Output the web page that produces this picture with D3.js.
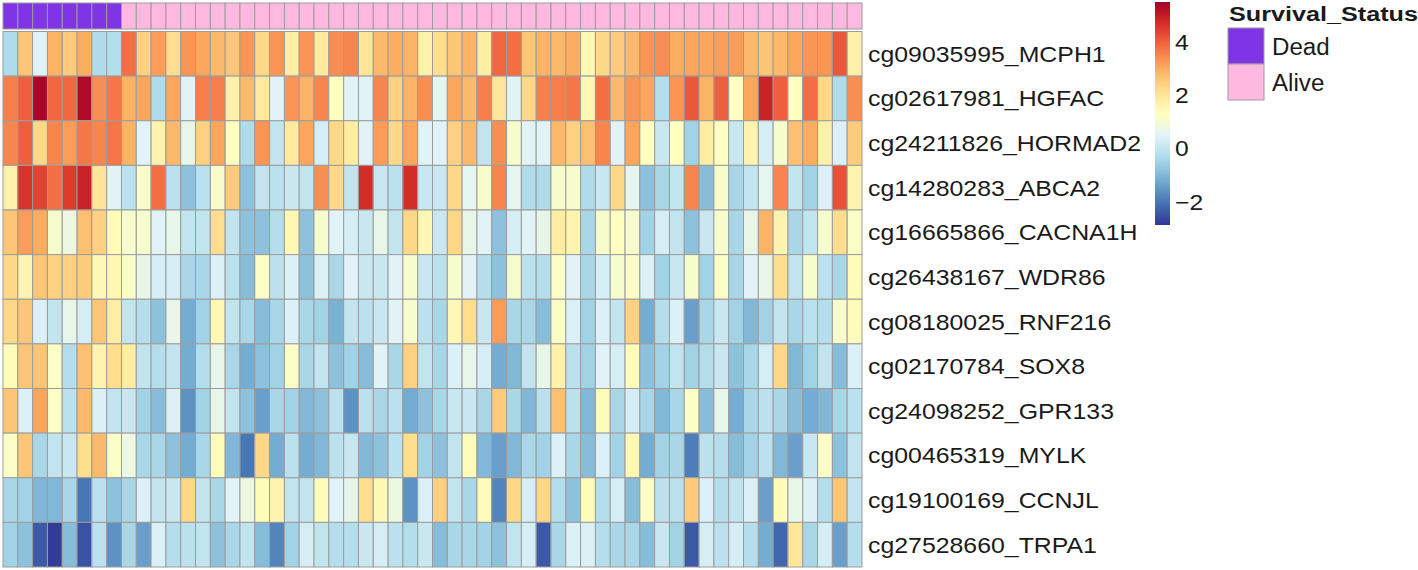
<!DOCTYPE html>
<html>
<head>
<meta charset="utf-8">
<script src="https://cdn.jsdelivr.net/npm/d3@7"></script>
<style>
  body { margin: 0; background: #fff; }
  text { font-family: "Liberation Sans", Arial, sans-serif; fill: #1a1a1a; }
</style>
</head>
<body>
<svg id="heatmap" width="1418" height="570"></svg>
<script>
// row labels (probe_gene) and per-sample survival status
let probes = [
  "cg09035995_MCPH1", "cg02617981_HGFAC", "cg24211826_HORMAD2", "cg14280283_ABCA2",
  "cg16665866_CACNA1H", "cg26438167_WDR86", "cg08180025_RNF216", "cg02170784_SOX8",
  "cg24098252_GPR133", "cg00465319_MYLK", "cg19100169_CCNJL", "cg27528660_TRPA1"
];
let survival = [
  "Dead", "Dead", "Dead", "Dead", "Dead", "Dead", "Dead", "Dead",
  "Alive", "Alive", "Alive", "Alive", "Alive", "Alive", "Alive", "Alive", "Alive", "Alive",
  "Alive", "Alive", "Alive", "Alive", "Alive", "Alive", "Alive", "Alive", "Alive", "Alive",
  "Alive", "Alive", "Alive", "Alive", "Alive", "Alive", "Alive", "Alive", "Alive", "Alive",
  "Alive", "Alive", "Alive", "Alive", "Alive", "Alive", "Alive", "Alive", "Alive", "Alive",
  "Alive", "Alive", "Alive", "Alive", "Alive", "Alive", "Alive", "Alive", "Alive", "Alive"
];

// scaled methylation values, one array per probe (58 samples each)
let mcph1 = [-0.3, 2.6, 0.5, 2.9, 2.5, 3.0, -0.3, -0.2, 3.8, 2.4, 3.2, 2.2, 3.3, 3.1, 2.8, 2.6, 3.3, 2.3, 3.3,
  1.8, 3.3, 1.9, 3.4, 3.5, 2.0, 2.8, 3.0, 2.9, 1.7, 2.2, 2.6, 2.9, 1.8, 3.9, 3.8, 2.6, 2.9, 2.8,
  3.0, 1.5, 2.3, 2.5, 2.8, 3.3, 3.4, 3.0, 3.1, 3.1, 3.2, 3.2, 2.8, 2.6, 2.8, 3.1, 3.3, 3.3, 4.1, 1.7];
let hgfac = [3.6, 4.0, 5.4, 3.9, 3.9, 5.3, 3.4, 3.7, 2.9, 3.1, -0.3, 3.1, 0.5, 3.6, 3.6, 1.7, 2.8, 1.9, 0.5,
  3.3, 2.9, 3.5, 1.3, 0.5, 0.5, 3.5, 2.4, 2.9, 3.4, 0.6, 3.1, 2.8, 3.6, 2.0, 0.5, 2.3, 3.6, 3.6,
  3.7, 1.5, 3.8, 2.8, 3.3, 3.1, -0.2, 3.3, 4.1, 2.9, 4.0, 1.3, 3.1, 4.9, 4.0, 1.3, 3.8, 2.3, -0.3, 3.4];
let hormad2 = [3.5, 4.0, 2.3, 3.5, 3.2, 3.7, 3.5, 3.7, 2.9, 0.5, 1.6, 2.8, 0.7, 2.4, 3.1, 1.3, -0.3, 3.3, 0.0,
  1.9, 3.1, 0.3, 2.3, 1.8, 0.5, 3.2, 2.3, 3.1, 0.5, 0.5, 2.4, 2.8, 0.0, 3.4, 1.1, 0.5, 0.5, 2.8,
  2.4, 2.7, 3.5, 0.5, 3.1, 1.3, 0.1, 1.3, -0.5, 1.8, 1.3, 0.1, 1.6, 0.3, 1.1, 2.7, 3.0, 1.7, 0.4, 2.5];
let abca2 = [1.7, 4.6, 4.4, 3.8, 4.5, 4.9, 2.0, 0.5, -0.1, 1.1, 3.8, -0.1, -0.8, -0.1, 1.1, 2.5, -0.8, 0.0, -0.1,
  0.1, 0.0, 3.4, 2.3, 0.0, 4.7, 0.1, -0.1, 4.7, 0.1, 0.1, 2.3, 0.6, 1.1, 3.5, 0.6, -0.3, -0.3, 1.1,
  1.1, -0.3, 0.1, 2.3, 0.6, -0.8, -0.4, 0.0, 3.5, -0.9, 1.1, -0.4, 0.0, 0.6, 3.5, 0.0, -0.5, 0.4, 4.2, 1.6];
let cacna1h = [2.6, 3.2, 3.0, 1.1, 0.8, 2.7, 2.4, 1.4, 1.1, 1.1, 0.5, 0.7, 0.0, 0.0, 2.2, 0.0, -0.8, -0.8, -0.2,
  1.5, -0.8, 1.1, 0.5, 0.3, 0.1, 0.7, 0.0, 2.3, 1.5, 0.1, 2.3, 0.7, 0.5, -0.8, 0.3, 0.5, 0.7, 1.8,
  1.6, -0.4, 1.1, 1.3, 1.1, -0.5, 0.3, 0.0, -0.8, 0.1, 1.1, -0.4, 0.7, 2.9, 1.6, -0.4, 0.0, 1.1, 2.2, 1.2];
let wdr86 = [2.3, 1.6, 2.6, 2.4, 2.4, 2.5, 1.5, 1.5, 1.2, 0.7, 0.3, 0.3, -0.4, -0.4, 0.4, -0.1, -0.9, 1.2, -0.1,
  0.4, -0.8, 0.4, -0.4, 0.5, 0.1, 0.1, 0.5, 1.1, 0.1, -0.1, 1.1, 0.5, -0.2, -0.8, 1.1, -0.1, -0.2, 1.2,
  0.5, -0.4, 0.3, 1.1, 1.2, 0.4, -0.5, 0.1, 1.1, -0.5, 1.2, -0.4, 0.5, 0.7, 2.2, 0.0, 1.1, -0.1, -0.4, 1.4];
let rnf216 = [2.3, 2.6, 0.4, 0.0, 0.7, 0.3, 2.6, 1.8, 0.0, -0.2, -0.8, 0.7, -1.2, -0.5, 1.5, 0.0, -0.4, -0.9, -0.4,
  0.4, -0.4, -0.5, -1.1, 0.0, -0.1, 0.1, 0.5, 1.1, -0.1, -0.4, 1.5, 2.2, 0.1, 3.2, -0.4, -0.4, -0.9, 1.2,
  0.4, -0.5, 0.4, 0.0, 2.4, -1.2, -0.2, 0.4, -1.4, -0.4, 0.1, -0.5, -1.0, -0.5, 0.0, -0.4, -0.1, -0.2, 1.1, 1.4];
let sox8 = [1.4, 2.6, 2.6, 1.2, -0.2, 2.7, 1.6, 2.2, 1.8, 0.0, -0.2, 0.0, -1.2, -0.2, 0.7, -0.4, -1.2, -0.8, -0.5,
  1.2, -0.4, 0.0, -0.8, -0.5, -0.9, 0.5, -0.4, 2.4, 0.0, -0.4, 0.4, 0.7, 0.3, -1.2, -1.0, 0.0, 0.7, 1.7,
  -0.1, -0.5, 0.5, 0.3, 1.4, -0.8, -0.5, 0.0, -0.5, -0.2, 0.1, -0.8, -0.4, 0.3, 2.3, -1.0, -0.5, 0.0, -0.9, 0.4];
let gpr133 = [2.6, 0.4, 3.1, 1.2, -0.1, 2.8, 0.4, 0.0, 0.1, -0.5, -0.9, 0.4, -1.6, -0.5, 0.7, 0.0, -0.8, -1.4, -0.4,
  -0.5, -1.0, -0.8, -0.1, -1.6, -0.1, -0.4, -0.1, -1.2, -0.8, -0.4, 0.1, 0.1, -0.4, 2.5, -0.4, -1.0, -0.1, 2.7,
  -0.1, -1.0, 1.4, -0.4, 0.3, -0.4, -1.0, -0.4, 1.2, -0.9, 0.7, -1.2, -0.4, -0.1, -0.4, -0.9, -1.2, -1.0, -0.4, -0.1];
let mylk = [1.2, 2.6, -0.4, 0.0, 0.1, 2.2, 2.8, 1.2, 0.8, -0.4, -0.4, -0.8, -1.2, -0.4, 1.4, -1.0, -2.0, 2.3, -1.2,
  -0.1, -1.2, -1.0, -0.1, 0.1, -1.0, -0.8, -0.1, 2.2, -0.5, -0.8, 0.0, 1.4, -1.0, -1.4, -1.0, -0.4, -0.5, 0.4,
  -0.4, -0.9, 0.4, -0.5, 1.5, -1.2, -0.5, -0.4, -1.9, -0.1, -0.2, -0.9, -0.5, -0.1, -1.0, -1.4, 0.1, 1.2, -0.8, 0.0];
let ccnjl = [-0.4, -0.5, -1.0, -1.0, -0.4, -2.0, -0.1, -0.8, -0.4, 0.4, 0.0, 0.1, 2.3, 0.0, -0.4, 0.5, 0.8, 1.4, 1.6,
  0.0, 0.0, 1.4, 0.5, 0.7, 2.2, 1.5, 0.8, -1.6, 0.4, 2.4, 0.0, -0.4, 1.4, -1.8, 2.3, 0.3, 2.3, -0.2,
  -0.8, 1.4, -0.2, 0.3, -0.9, 1.2, -0.1, -0.1, 2.5, 0.4, -0.2, 0.0, 0.4, -1.4, 1.4, 0.7, 0.4, -0.2, 2.6, 0.0];
let trpa1 = [-0.5, -0.8, -2.4, -2.8, -0.9, -2.5, -0.1, -1.6, -0.4, -1.4, 0.4, -0.2, -0.1, 0.0, -0.8, -0.4, 0.0, -0.9, -1.8,
  -0.5, 0.3, 0.0, -0.2, -0.2, 0.1, 0.3, -0.1, -0.2, 0.1, -0.9, -0.4, -0.4, -0.5, -0.8, 0.0, 0.3, -2.4, -0.4,
  0.4, 0.4, -0.2, -0.4, -0.4, -0.9, 0.1, -0.5, -2.4, 0.3, -0.1, 0.3, -0.2, -1.2, -2.2, 2.0, -0.4, 0.3, -1.4, -0.2];

let matrix = [mcph1, hgfac, hormad2, abca2, cacna1h, wdr86, rnf216, sox8, gpr133, mylk, ccnjl, trpa1];

let statusNames = ["Dead", "Alive"];
let statusColors = ["#7f35e6", "#ffb8e0"];
let legendTicks = [-2, 0, 2, 4];
let colorMin = -2.87;
let colorMax = 5.49;

let svg = d3.select("#heatmap");

let x = d3.scaleBand().domain(d3.range(survival.length)).range([3, 862]);
let y = d3.scaleBand().domain(probes).range([31.5, 567]);
// linear ramp through the 11-class RdYlBu palette, blue to red
let ramp = d3.piecewise(d3.interpolateRgb, d3.schemeRdYlBu[11].slice().reverse());
let color = d3.scaleSequential(ramp).domain([colorMin, colorMax]);
let statusColor = d3.scaleOrdinal(statusNames, statusColors);

// annotation bar on top
svg
  .append("g")
  .selectAll("rect")
  .data(survival)
  .enter()
  .append("rect")
  .attr("x", (d, i) => x(i))
  .attr("y", 3)
  .attr("width", x.bandwidth())
  .attr("height", 26)
  .attr("fill", (d) => statusColor(d))
  .attr("stroke", "#9c9c9c")
  .attr("stroke-width", 1);

// heatmap cells
let cells = [];
matrix.forEach((row, r) => {
  row.forEach((v, c) => cells.push({ probe: probes[r], col: c, value: v }));
});

svg
  .append("g")
  .selectAll("rect")
  .data(cells)
  .enter()
  .append("rect")
  .attr("x", (d) => x(d.col))
  .attr("y", (d) => y(d.probe))
  .attr("width", x.bandwidth())
  .attr("height", y.bandwidth())
  .attr("fill", (d) => color(d.value))
  .attr("stroke", "#9c9c9c")
  .attr("stroke-width", 1);

// row labels
svg
  .append("g")
  .selectAll("text")
  .data(probes)
  .enter()
  .append("text")
  .attr("transform", (d) => "translate(868," + (y(d) + y.bandwidth() / 2 + 8) + ") scale(1.13,1)")
  .style("font-size", "22px")
  .text((d) => d);

// colour key
let defs = svg.append("defs");
let grad = defs
  .append("linearGradient")
  .attr("id", "key-grad")
  .attr("x1", 0)
  .attr("y1", 1)
  .attr("x2", 0)
  .attr("y2", 0);
d3.range(0, 1.0001, 0.05).forEach((t) => {
  grad
    .append("stop")
    .attr("offset", t)
    .attr("stop-color", color(colorMin + t * (colorMax - colorMin)));
});

let keyY = d3.scaleLinear().domain([colorMin, colorMax]).range([225, 2]);
svg
  .append("rect")
  .attr("x", 1155)
  .attr("y", keyY(colorMax))
  .attr("width", 15)
  .attr("height", keyY(colorMin) - keyY(colorMax))
  .attr("fill", "url(#key-grad)");

svg
  .append("g")
  .selectAll("text")
  .data(legendTicks)
  .enter()
  .append("text")
  .attr("transform", (d) => "translate(1175," + (keyY(d) + 8) + ") scale(1.12,1)")
  .style("font-size", "22px")
  .text((d) => d3.format("d")(d));

// survival legend
svg
  .append("text")
  .attr("transform", "translate(1229,21) scale(1.2,1)")
  .style("font-size", "21px")
  .style("font-weight", "bold")
  .text("Survival_Status");

let leg = svg
  .append("g")
  .selectAll("g")
  .data(statusNames)
  .enter()
  .append("g")
  .attr("transform", (d, i) => "translate(1228," + (28 + i * 36) + ")");

leg
  .append("rect")
  .attr("width", 36)
  .attr("height", 36)
  .attr("fill", (d) => statusColor(d))
  .attr("stroke", "#9c9c9c")
  .attr("stroke-width", 1);

leg
  .append("text")
  .attr("transform", "translate(44,27) scale(1.05,1)")
  .style("font-size", "23px")
  .text((d) => d);
</script>
</body>
</html>
